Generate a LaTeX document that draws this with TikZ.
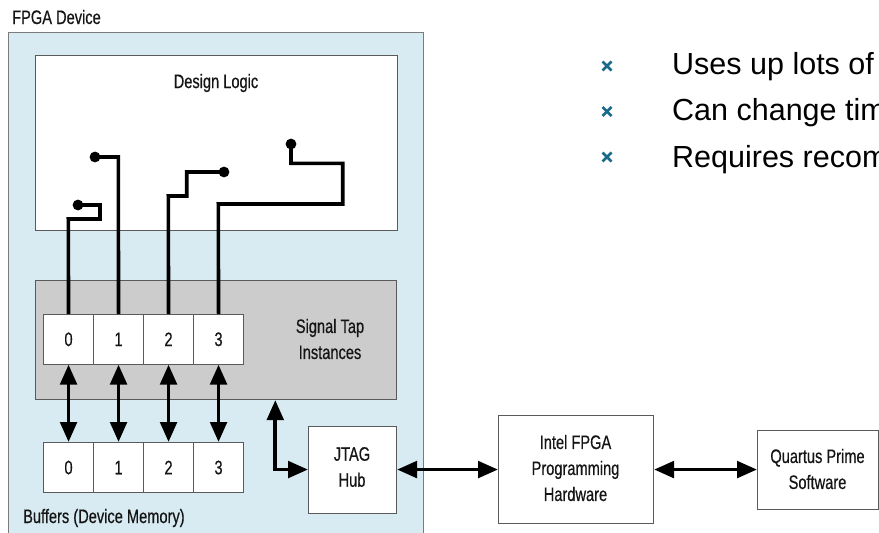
\documentclass[tikz,border=0pt]{standalone}
\usepackage{fontspec}
\setmainfont[FakeStretch=0.75,FakeBold=0.5]{Liberation Sans}
\newfontfamily\bulletfont{Liberation Sans}
\usetikzlibrary{arrows.meta}
\definecolor{devbg}{HTML}{D8EBF2}
\definecolor{tapbg}{HTML}{CCCCCC}
\definecolor{edge}{HTML}{5A5A5A}
\definecolor{bulletc}{HTML}{1B6A8C}
\definecolor{ink}{HTML}{151515}
\tikzset{
  box/.style={draw=edge, line width=1.1pt, fill=white, inner sep=0pt, anchor=north west},
  cell/.style={box, minimum width=50pt, minimum height=49.5pt, text=ink, font=\fontsize{19.5}{26}\selectfont},
  lbl/.style={inner sep=0pt, align=center, text=ink, font=\fontsize{19.5}{26}\selectfont},
  wire/.style={line width=3.6pt, line join=miter},
  dbl/.style={line width=3.8pt, {Triangle[length=20pt,width=16.5pt]}-{Triangle[length=20pt,width=16.5pt]}},
  bul/.style={draw=bulletc, line width=2.8pt},
  btext/.style={inner sep=0pt, anchor=base west, font=\bulletfont\fontsize{30.5}{36}\selectfont}
}
\begin{document}
\begin{tikzpicture}[x=1pt,y=-1pt]
\useasboundingbox (0,0) rectangle (879,533);
\clip (0,0) rectangle (879,533);
\fill[white] (0,0) rectangle (879,533);
% FPGA device
\node[box, fill=devbg, draw=edge!80, minimum width=415pt, minimum height=520pt] (fpga) at (8,32) {};
\node[lbl, anchor=base west] (fpgalbl) at (12,24) {FPGA Device};
% Design logic
\node[box, minimum width=362pt, minimum height=175pt] (logic) at (35,55) {};
\node[lbl] (logiclbl) at (216,83) {Design Logic};
% Signal tap
\node[box, fill=tapbg, minimum width=361pt, minimum height=119pt] (sig) at (35,280) {};
\node[lbl] (siglbl) at (330,339) {Signal Tap\\Instances};
% cells
\foreach \i in {0,1,2,3}{
  \node[cell] (t\i) at ({43+50*\i},314) {\i};
  \node[cell, minimum height=50pt] (b\i) at ({43+50*\i},442) {\i};
}
\node[lbl, anchor=base west] (buflbl) at (23,523) {Buffers (Device Memory)};
% JTAG, Intel, Quartus
\node[box, minimum width=88pt, minimum height=87pt] (jtag) at (308,425.5) {};
\node[lbl] (jtaglbl) at (352,467) {JTAG\\Hub};
\node[box, minimum width=155pt, minimum height=108pt] (intel) at (498,415) {};
\node[lbl] (intellbl) at (575.5,468) {Intel FPGA\\Programming\\Hardware};
\node[box, minimum width=121pt, minimum height=79pt] (quartus) at (757,430) {};
\node[lbl] (quartuslbl) at (817.5,469) {Quartus Prime\\Software};
% wires
\coordinate (d0) at (78,205);
\coordinate (d1) at (95,157);
\coordinate (d2) at (224,172);
\coordinate (d3) at (291,144);
\draw[wire] (t0.north) -- (68.3,219) -- (100,219) -- (100,205) -- (d0);
\draw[wire] (t1.north) -- (118.3,157) -- (d1);
\draw[wire] (t2.north) -- (168.3,196) -- (186.7,196) -- (186.7,172) -- (d2);
\draw[wire] (t3.north) -- (218.3,204) -- (342.7,204) -- (342.7,163.3) -- (291,163.3) -- (d3);
\foreach \d in {d0,d1,d2,d3}{\fill (\d) circle[radius=5.4pt];}
% arrows
\foreach \i in {0,1,2,3}{\draw[dbl] (t\i.south) -- (b\i.north);}
\coordinate (jx) at (275.3,0);
\draw[dbl] (jx |- sig.south) |- (jtag.west);
\draw[dbl] (jtag.east) -- (jtag.east -| intel.west);
\draw[dbl] (intel.east) -- (intel.east -| quartus.west);
% bullets
\foreach \y in {66,111.5,157}{
  \draw[bul] (602.5,\y-4.5) -- (611.5,\y+4.5);
  \draw[bul] (602.5,\y+4.5) -- (611.5,\y-4.5);
}
\node[btext] (l1) at (672,74) {Uses up lots of};
\node[btext] (l2) at (672,120.5) {Can change tim};
\node[btext] (l3) at (672,167) {Requires recom};
\end{tikzpicture}
\end{document}
